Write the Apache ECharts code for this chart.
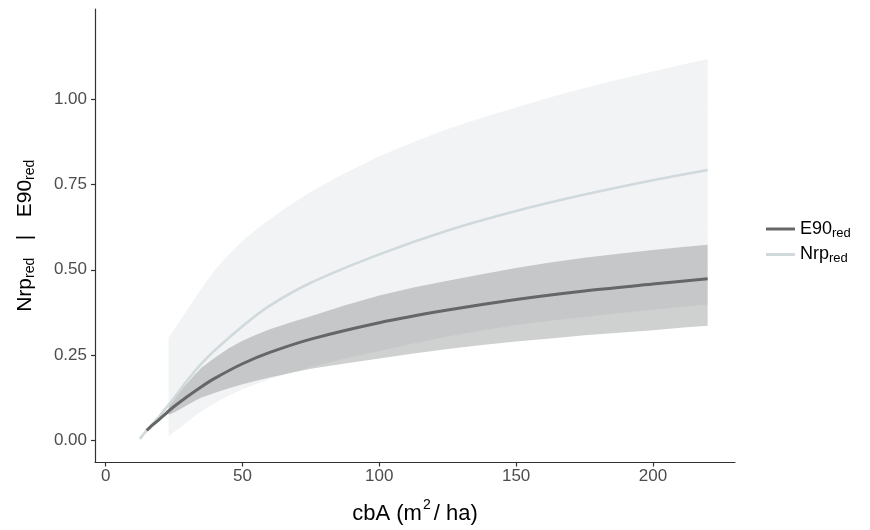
<!DOCTYPE html>
<html>
<head>
<meta charset="utf-8">
<script src="https://cdn.jsdelivr.net/npm/echarts@6/dist/echarts.min.js"></script>
<style>html,body{margin:0;padding:0;background:#fff}#c{width:870px;height:530px}</style>
</head>
<body>
<div id="c"></div>
<script>
// ---- data ----
var xTicks = [0, 50, 100, 150, 200];
var yTicks = [0, 0.25, 0.5, 0.75, 1.0];

var e90X = [15, 17.5, 20, 22.5, 25, 30, 35, 40, 50, 60, 75, 100, 125, 150, 175, 200, 220];
var e90Y = [0.03, 0.048, 0.065, 0.083, 0.10, 0.13, 0.158, 0.183, 0.225, 0.258, 0.297, 0.345, 0.382, 0.413, 0.438, 0.458, 0.474];

var nrpX = [12.5, 15, 17.5, 20, 22.5, 25, 30, 35, 40, 50, 60, 75, 100, 125, 150, 175, 200, 220];
var nrpY = [0.005, 0.03, 0.052, 0.075, 0.10, 0.125, 0.178, 0.225, 0.265, 0.335, 0.395, 0.462, 0.545, 0.615, 0.672, 0.72, 0.762, 0.792];

var ribX     = [23, 25, 27.5, 30, 32.5, 35, 40, 45, 50, 55, 60, 67.5, 75, 87.5, 100, 112.5, 125, 137.5, 150, 162.5, 175, 187.5, 200, 210, 220];
var nrpUpper = [0.30, 0.325, 0.355, 0.385, 0.415, 0.445, 0.50, 0.545, 0.585, 0.618, 0.648, 0.69, 0.728, 0.783, 0.832, 0.874, 0.912, 0.945, 0.975, 1.005, 1.032, 1.057, 1.08, 1.099, 1.117];
var nrpLower = [0.013, 0.025, 0.04, 0.055, 0.071, 0.086, 0.11, 0.131, 0.15, 0.166, 0.18, 0.198, 0.215, 0.24, 0.262, 0.284, 0.305, 0.322, 0.338, 0.351, 0.362, 0.373, 0.383, 0.391, 0.398];
var e90Upper = [0.105, 0.125, 0.148, 0.17, 0.193, 0.213, 0.243, 0.27, 0.292, 0.31, 0.326, 0.346, 0.364, 0.396, 0.425, 0.448, 0.468, 0.487, 0.505, 0.521, 0.535, 0.547, 0.558, 0.566, 0.573];
var e90Lower = [0.075, 0.082, 0.093, 0.105, 0.116, 0.126, 0.14, 0.153, 0.165, 0.175, 0.185, 0.198, 0.21, 0.226, 0.24, 0.255, 0.268, 0.28, 0.29, 0.299, 0.308, 0.316, 0.323, 0.33, 0.336];

function pairs(xs, ys) { return xs.map(function (x, i) { return [x, ys[i]]; }); }

function ribbon(name, upper, lower, color) {
  return {
    type: 'custom',
    name: name + '_band',
    silent: true,
    data: [0],
    z: 1,
    renderItem: function (params, api) {
      var pts = [];
      for (var i = 0; i < ribX.length; i++) pts.push(api.coord([ribX[i], upper[i]]));
      for (var j = ribX.length - 1; j >= 0; j--) pts.push(api.coord([ribX[j], lower[j]]));
      return { type: 'polygon', shape: { points: pts }, style: { fill: color, stroke: null } };
    }
  };
}

var FONT = 'Arial, "Liberation Sans", sans-serif';
var chart = echarts.init(document.getElementById('c'), null, { renderer: 'canvas' });
chart.setOption({
  animation: false,
  backgroundColor: '#ffffff',
  grid: { left: 95, right: 135, top: 9, bottom: 67, containLabel: false },
  xAxis: {
    type: 'value', min: -3.9, max: 230,
    axisLine: { show: true, onZero: false, lineStyle: { color: '#333', width: 1.2 } },
    axisTick: { show: true, length: 4, customValues: xTicks, lineStyle: { color: '#333', width: 1.2 } },
    axisLabel: { customValues: xTicks, color: '#4d4d4d', fontSize: 17, fontFamily: FONT, margin: 5 },
    splitLine: { show: false },
    name: '{b|cbA (m}{sup|2}{b|/ ha)}',
    nameLocation: 'middle', nameGap: 36,
    nameTextStyle: { color: '#000', fontSize: 22, fontFamily: FONT,
      rich: { b: { fontSize: 22, fontFamily: FONT, color: '#000' },
              sup: { fontSize: 14, fontFamily: FONT, color: '#000', padding: [0, 3, 17, 1] } } }
  },
  yAxis: {
    type: 'value', min: -0.064, max: 1.263,
    axisLine: { show: true, onZero: false, lineStyle: { color: '#333', width: 1.2 } },
    axisTick: { show: true, length: 4, customValues: yTicks, lineStyle: { color: '#333', width: 1.2 } },
    axisLabel: { customValues: yTicks, color: '#4d4d4d', fontSize: 17, fontFamily: FONT, margin: 8,
      formatter: function (v) { return v.toFixed(2); } },
    splitLine: { show: false },
    name: '{b|Nrp}{s|red}{b|   |   E90}{s|red}',
    nameLocation: 'middle', nameGap: 58,
    nameTextStyle: { color: '#000', fontSize: 21, fontFamily: FONT,
      rich: { b: { fontSize: 21, fontFamily: FONT, color: '#000' },
              s: { fontSize: 14, fontFamily: FONT, color: '#000', padding: [9, 0, 0, 0] } } }
  },
  legend: {
    orient: 'vertical', left: 761, top: 215, itemGap: 6,
    itemWidth: 29, itemHeight: 3, icon: 'rect',
    data: [{ name: 'E90' }, { name: 'Nrp' }],
    formatter: function (n) { return '{b|' + n + '}{s|red}'; },
    textStyle: { color: '#000', fontSize: 18, fontFamily: FONT,
      rich: { b: { fontSize: 18, fontFamily: FONT, color: '#000' },
              s: { fontSize: 13, fontFamily: FONT, color: '#000', padding: [8, 0, 0, 0] } } }
  },
  series: [
    ribbon('Nrp', nrpUpper, nrpLower, 'rgba(215,220,225,0.35)'),
    ribbon('E90', e90Upper, e90Lower, 'rgba(90,92,94,0.29)'),
    { type: 'line', name: 'Nrp', data: pairs(nrpX, nrpY), smooth: 0.3, symbol: 'none', z: 3,
      itemStyle: { color: '#d0d9dc' }, lineStyle: { color: '#d0d9dc', width: 2.6 } },
    { type: 'line', name: 'E90', data: pairs(e90X, e90Y), smooth: 0.3, symbol: 'none', z: 4,
      itemStyle: { color: '#666666' }, lineStyle: { color: '#666666', width: 3 } }
  ]
});
</script>
</body>
</html>
